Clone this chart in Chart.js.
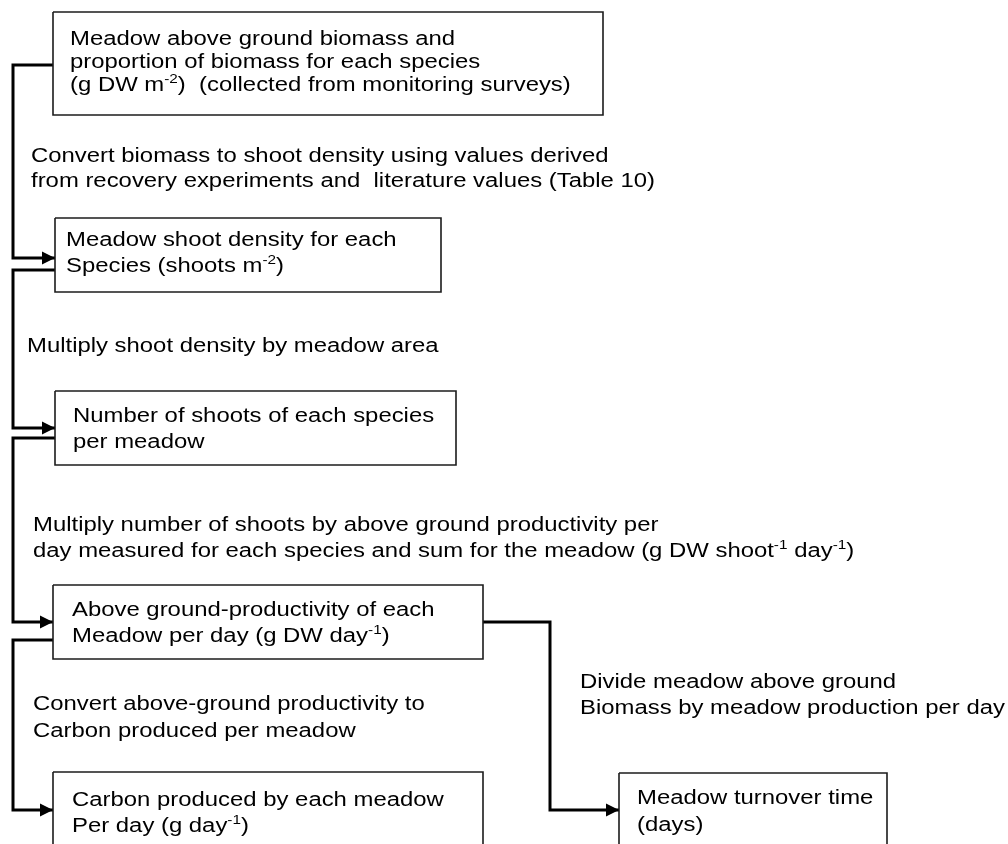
<!DOCTYPE html>
<html>
<head>
<meta charset="utf-8">
<script src="https://cdn.jsdelivr.net/npm/chart.js@4.4.1/dist/chart.umd.min.js"></script>
<style>
html,body{margin:0;padding:0;background:#fff;}
canvas{display:block;}
</style>
</head>
<body>
<canvas id="c" width="1008" height="844"></canvas>
<script>
// ---- content (text of the flow chart) ----
const boxTexts = [
  ["Meadow above ground biomass and", "proportion of biomass for each species", "(g DW m^{-2})  (collected from monitoring surveys)"],
  ["Meadow shoot density for each", "Species (shoots m^{-2})"],
  ["Number of shoots of each species", "per meadow"],
  ["Above ground-productivity of each", "Meadow per day (g DW day^{-1})"],
  ["Carbon produced by each meadow", "Per day (g day^{-1})"],
  ["Meadow turnover time", "(days)"]
];
const stepTexts = [
  ["Convert biomass to shoot density using values derived", "from recovery experiments and  literature values (Table 10)"],
  ["Multiply shoot density by meadow area"],
  ["Multiply number of shoots by above ground productivity per", "day measured for each species and sum for the meadow (g DW shoot^{-1} day^{-1})"],
  ["Convert above-ground productivity to", "Carbon produced per meadow"],
  ["Divide meadow above ground", "Biomass by meadow production per day"]
];

// ---- layout (positions in scale units) ----
const boxRects = [
  [53, 12, 603, 115],
  [55, 218, 441, 292],
  [55, 391, 456, 465],
  [53, 585, 483, 659],
  [53, 772, 483, 860],
  [619, 773, 887, 860]
];
const boxTextPos = [
  {x: 70, y: [45, 68, 91]},
  {x: 66, y: [246, 272]},
  {x: 73, y: [422, 448]},
  {x: 72, y: [616, 642]},
  {x: 72, y: [806, 832]},
  {x: 637, y: [804, 831]}
];
const stepTextPos = [
  {x: 31, y: [162, 187]},
  {x: 27, y: [352]},
  {x: 33, y: [531, 557]},
  {x: 33, y: [710, 737]},
  {x: 580, y: [688, 714]}
];
const connectors = [
  [[53, 65], [13, 65], [13, 258], [55, 258]],
  [[55, 270], [13, 270], [13, 428], [55, 428]],
  [[55, 438], [13, 438], [13, 622], [53, 622]],
  [[53, 640], [13, 640], [13, 810], [53, 810]],
  [[483, 622], [550, 622], [550, 810], [619, 810]]
];

const FONT = '"Liberation Sans", Arial, Helvetica, sans-serif';
const FSIZE = 19.5, SUPSIZE = 12.5, SUPRISE = 8, SX = 1.225;

const datasets = [];
boxRects.forEach(r => {
  datasets.push({
    data: [{x:r[0],y:r[1]},{x:r[2],y:r[1]},{x:r[2],y:r[3]},{x:r[0],y:r[3]},{x:r[0],y:r[1]}],
    showLine: true, borderColor: '#1c1c1c', borderWidth: 1.6, pointRadius: 0,
    fill: false, tension: 0, clip: false, borderJoinStyle: 'miter'
  });
});
connectors.forEach(c => {
  datasets.push({
    data: c.map(p => ({x:p[0], y:p[1]})),
    showLine: true, borderColor: '#000', borderWidth: 3, pointRadius: 0,
    fill: false, tension: 0, clip: false, borderJoinStyle: 'miter', borderCapStyle: 'butt'
  });
});

function parseRich(s) {
  const segs = [];
  const re = /\^\{([^}]*)\}/g;
  let last = 0, m;
  while ((m = re.exec(s)) !== null) {
    if (m.index > last) segs.push({t: s.slice(last, m.index), sup: false});
    segs.push({t: m[1], sup: true});
    last = re.lastIndex;
  }
  if (last < s.length) segs.push({t: s.slice(last), sup: false});
  return segs;
}

function drawRich(ctx, text, px, py) {
  ctx.save();
  ctx.translate(px, py);
  ctx.scale(SX, 1);
  ctx.fillStyle = '#000';
  ctx.textBaseline = 'alphabetic';
  ctx.textAlign = 'left';
  let cx = 0;
  parseRich(text).forEach(seg => {
    ctx.font = (seg.sup ? SUPSIZE : FSIZE) + 'px ' + FONT;
    ctx.fillText(seg.t, cx, seg.sup ? -SUPRISE : 0);
    cx += ctx.measureText(seg.t).width;
  });
  ctx.restore();
}

const diagramPlugin = {
  id: 'diagram',
  afterDatasetsDraw(chart) {
    const ctx = chart.ctx;
    const xs = chart.scales.x, ys = chart.scales.y;
    // arrowheads at connector ends
    connectors.forEach(c => {
      const end = c[c.length - 1];
      const tx = xs.getPixelForValue(end[0]), ty = ys.getPixelForValue(end[1]);
      ctx.save();
      ctx.fillStyle = '#000';
      ctx.beginPath();
      ctx.moveTo(tx, ty);
      ctx.lineTo(tx - 13, ty - 6.5);
      ctx.lineTo(tx - 13, ty + 6.5);
      ctx.closePath();
      ctx.fill();
      ctx.restore();
    });
    boxTexts.forEach((lines, i) => {
      const p = boxTextPos[i];
      lines.forEach((ln, j) => drawRich(ctx, ln, xs.getPixelForValue(p.x), ys.getPixelForValue(p.y[j])));
    });
    stepTexts.forEach((lines, i) => {
      const p = stepTextPos[i];
      lines.forEach((ln, j) => drawRich(ctx, ln, xs.getPixelForValue(p.x), ys.getPixelForValue(p.y[j])));
    });
  }
};

new Chart(document.getElementById('c'), {
  type: 'scatter',
  data: { datasets },
  options: {
    responsive: false,
    animation: false,
    devicePixelRatio: 1,
    layout: { padding: 0 },
    scales: {
      x: { type: 'linear', min: 0, max: 1008, display: false },
      y: { type: 'linear', min: 0, max: 844, reverse: true, display: false }
    },
    plugins: { legend: { display: false }, tooltip: { enabled: false } },
    events: []
  },
  plugins: [diagramPlugin]
});
</script>
</body>
</html>
